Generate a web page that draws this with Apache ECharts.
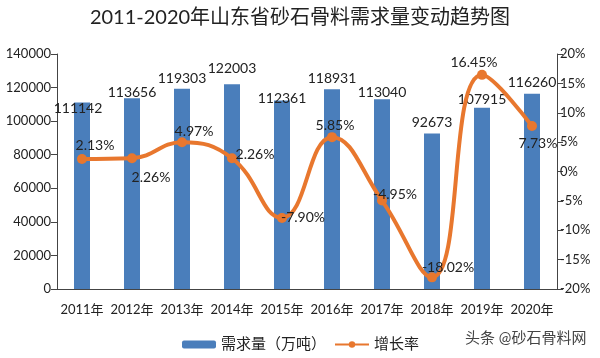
<!DOCTYPE html>
<html>
<head>
<meta charset="utf-8">
<script src="https://cdn.jsdelivr.net/npm/echarts@6/dist/echarts.min.js"></script>
<style>html,body{margin:0;padding:0;background:#fff;}#c{width:600px;height:358px;}</style>
</head>
<body>
<div id="c"></div>
<script>
const categories = ['2011年','2012年','2013年','2014年','2015年','2016年','2017年','2018年','2019年','2020年'];
const demand = [111142, 113656, 119303, 122003, 112361, 118931, 113040, 92673, 107915, 116260];
const growth = [2.13, 2.26, 4.97, 2.26, -7.90, 5.85, -4.95, -18.02, 16.45, 7.73];
const leftTicks = {min: 0, max: 140000, interval: 20000};
const rightTicks = {min: -20, max: 20, interval: 5};

// label offsets (layout only)
const barLabelOff = [[-4,13],[0,1],[0,-3],[0,-9],[0,5],[0,-4],[0,0],[0,-4],[0,-1],[0,-4]];
const lineLabelOff = [[13,-14],[19,19],[12,-11],[23,-4],[21,0],[3,-12],[13,-6],[16,-10],[-8,-12],[6,17]];

const FONT = 'Lato, "Noto Sans CJK SC", sans-serif';
const chart = echarts.init(document.getElementById('c'), null, {renderer: 'canvas'});
chart.setOption({
  backgroundColor: '#fff',
  animation: false,
  textStyle: {fontFamily: FONT},
  title: {
    text: '2011-2020年山东省砂石骨料需求量变动趋势图',
    left: 'center', top: 3,
    textStyle: {fontSize: 20, fontWeight: 'normal', color: '#222', fontFamily: FONT}
  },
  grid: {left: 57, right: 43, top: 54, bottom: 69},
  legend: {
    left: 182, top: 337, padding: 0,
    itemWidth: 34, itemHeight: 8, itemGap: 8,
    textStyle: {fontSize: 15, color: '#222', fontFamily: FONT},
    data: ['需求量（万吨）', '增长率']
  },
  graphic: [{
    type: 'text', left: 465, top: 331,
    style: {text: '头条 @砂石骨料网', fontSize: 15, fill: '#444', fontFamily: FONT}
  }],
  xAxis: {
    type: 'category', data: categories,
    axisLine: {lineStyle: {color: '#444', width: 1}},
    axisTick: {length: 6, lineStyle: {color: '#444'}},
    axisLabel: {fontSize: 13, color: '#222', margin: 14, interval: 0}
  },
  yAxis: [{
    type: 'value', min: leftTicks.min, max: leftTicks.max, interval: leftTicks.interval,
    splitLine: {show: false},
    axisLine: {show: true, lineStyle: {color: '#444'}},
    axisTick: {show: true, length: 6, lineStyle: {color: '#444'}},
    axisLabel: {fontSize: 13, color: '#222', margin: 6, formatter: v => String(v)}
  }, {
    type: 'value', min: rightTicks.min, max: rightTicks.max, interval: rightTicks.interval,
    splitLine: {show: false},
    axisLine: {show: true, lineStyle: {color: '#444'}},
    axisTick: {show: true, length: 6, lineStyle: {color: '#444'}},
    axisLabel: {fontSize: 13, color: '#222', margin: 3, formatter: '{value}%'}
  }],
  series: [{
    name: '需求量（万吨）', type: 'bar', yAxisIndex: 0,
    barWidth: 16,
    itemStyle: {color: '#4a7ebb'},
    data: demand.map((v, i) => ({
      value: v,
      label: {show: true, position: 'top', distance: 0, offset: barLabelOff[i],
        fontSize: 14, color: '#222', fontFamily: FONT}
    }))
  }, {
    name: '增长率', type: 'line', yAxisIndex: 1,
    smooth: 0.45,
    symbol: 'circle', symbolSize: 10,
    lineStyle: {color: '#e8772e', width: 4},
    itemStyle: {color: '#e8772e'},
    z: 5,
    data: growth.map((v, i) => ({
      value: v,
      label: {show: true, position: 'inside', offset: lineLabelOff[i],
        fontSize: 14, color: '#222', fontFamily: FONT,
        formatter: p => p.value.toFixed(2) + '%'}
    }))
  }]
});
</script>
</body>
</html>
